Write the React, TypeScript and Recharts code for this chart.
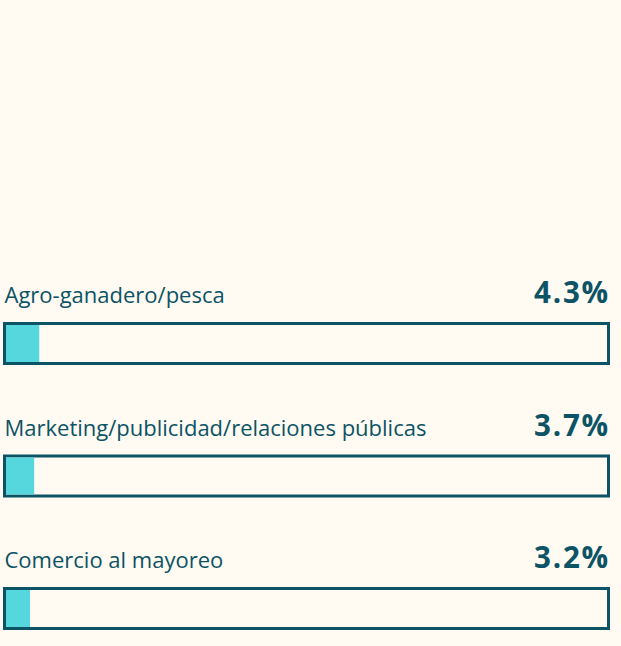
import React from 'react';
import { BarChart, Bar, XAxis, YAxis } from 'recharts';

const categories = ['Agro-ganadero/pesca', 'Marketing/publicidad/relaciones públicas', 'Comercio al mayoreo'];
const values = [4.3, 3.7, 3.2];
const valueLabels = ['4.3%', '3.7%', '3.2%'];

const data = categories.map((name, i) => ({ name, value: values[i], label: valueLabels[i] }));

const BG = '#fffaf2';
const INK = '#0b5365';
const FILL = '#55d7dd';
const FONT = '"Open Sans", Lato, sans-serif';

const ProgressBar = (props: any) => {
  const { x, y, width, height, background, payload } = props;
  const bg = background ?? { x: 3, width: 607 };
  return (
    <g>
      <rect x={bg.x + 1.5} y={y + 1.5} width={bg.width - 3} height={height - 3} fill={BG} stroke={INK} strokeWidth={3} />
      <rect x={x + 3} y={y + 3} width={Math.max(width - 3, 0)} height={height - 6} fill={FILL} />
      <text x={bg.x + 1.5} y={y - 19} fill={INK} fontSize={22} fontFamily={FONT}>
        {payload.name}
      </text>
      <text
        x={bg.x + bg.width}
        y={y - 19}
        fill={INK}
        fontSize={29.5}
        fontWeight={700}
        letterSpacing={1.8}
        fontFamily={FONT}
        textAnchor="end"
      >
        {payload.label}
      </text>
    </g>
  );
};

export default function App() {
  return (
    <div style={{ width: 621, height: 646, overflow: 'hidden', background: BG }}>
      <style>{'body{margin:0}'}</style>
      <BarChart
        width={621}
        height={676}
        data={data}
        layout="vertical"
        margin={{ top: 277, right: 11, bottom: 1.5, left: 3 }}
      >
        <XAxis type="number" domain={[0, 72]} hide />
        <YAxis type="category" dataKey="name" hide />
        <Bar dataKey="value" barSize={43} shape={<ProgressBar />} isAnimationActive={false} />
      </BarChart>
    </div>
  );
}
